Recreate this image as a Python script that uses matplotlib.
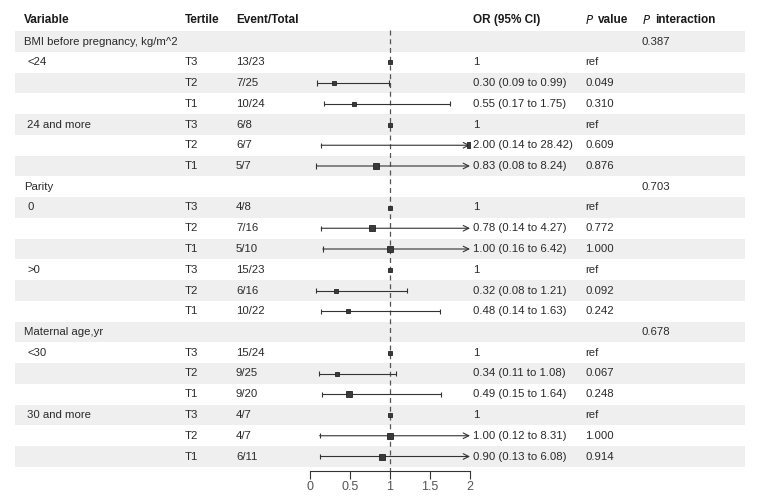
import matplotlib
matplotlib.use("Agg")
import matplotlib.pyplot as plt

plt.rcParams['font.family'] = ['Liberation Sans', 'DejaVu Sans']

# rows of the table
variables = ["BMI before pregnancy, kg/m^2", "<24", "", "", "24 and more", "", "",
             "Parity", "0", "", "", ">0", "", "",
             "Maternal age,yr", "<30", "", "", "30 and more", "", ""]
tertiles = ["", "T3", "T2", "T1", "T3", "T2", "T1",
            "", "T3", "T2", "T1", "T3", "T2", "T1",
            "", "T3", "T2", "T1", "T3", "T2", "T1"]
events = ["", "13/23", "7/25", "10/24", "6/8", "6/7", "5/7",
          "", "4/8", "7/16", "5/10", "15/23", "6/16", "10/22",
          "", "15/24", "9/25", "9/20", "4/7", "4/7", "6/11"]
or_est = [None, 1, 0.30, 0.55, 1, 2.00, 0.83,
          None, 1, 0.78, 1.00, 1, 0.32, 0.48,
          None, 1, 0.34, 0.49, 1, 1.00, 0.90]
ci_lo = [None, None, 0.09, 0.17, None, 0.14, 0.08,
         None, None, 0.14, 0.16, None, 0.08, 0.14,
         None, None, 0.11, 0.15, None, 0.12, 0.13]
ci_hi = [None, None, 0.99, 1.75, None, 28.42, 8.24,
         None, None, 4.27, 6.42, None, 1.21, 1.63,
         None, None, 1.08, 1.64, None, 8.31, 6.08]
or_text = ["", "1", "0.30 (0.09 to 0.99)", "0.55 (0.17 to 1.75)", "1", "2.00 (0.14 to 28.42)", "0.83 (0.08 to 8.24)",
           "", "1", "0.78 (0.14 to 4.27)", "1.00 (0.16 to 6.42)", "1", "0.32 (0.08 to 1.21)", "0.48 (0.14 to 1.63)",
           "", "1", "0.34 (0.11 to 1.08)", "0.49 (0.15 to 1.64)", "1", "1.00 (0.12 to 8.31)", "0.90 (0.13 to 6.08)"]
p_vals = ["", "ref", "0.049", "0.310", "ref", "0.609", "0.876",
          "", "ref", "0.772", "1.000", "ref", "0.092", "0.242",
          "", "ref", "0.067", "0.248", "ref", "1.000", "0.914"]
p_inter = ["0.387", "", "", "", "", "", "",
           "0.703", "", "", "", "", "", "",
           "0.678", "", "", "", "", "", ""]
marker_sizes = [0, 3.5, 3.5, 3.5, 3.5, 4, 4.5,
                0, 3.5, 4.5, 4.5, 3.5, 3.5, 3.5,
                0, 3.5, 3.5, 4, 3.5, 4.5, 5]
xticks = [0, 0.5, 1, 1.5, 2]

W, H = 759, 500
fig = plt.figure(figsize=(W / 100, H / 100), dpi=100)

# row r sits at pixel 41.5 + 20.75*r
y_top = (0 - 41.5) / 20.75
y_bot = (H - 41.5) / 20.75

ax = fig.add_axes([0, 0, 1, 1])
ax.set_xlim(0, W)
ax.set_ylim(y_bot, y_top)
ax.axis('off')

n = len(variables)
for r in range(n):
    if r % 2 == 0:
        ax.axhspan(r - 0.5, r + 0.5, xmin=15 / W, xmax=745 / W, color='#efefef', lw=0, zorder=0)

txt = dict(fontsize=8.2, color='#2a2a2a', va='center')
hd = dict(fontsize=8.5, color='#1a1a1a', va='center', fontweight='bold')
hdr_y = (20 - 41.5) / 20.75
ax.text(24, hdr_y, "Variable", **hd)
ax.text(185, hdr_y, "Tertile", **hd)
ax.text(236, hdr_y, "Event/Total", **hd)
ax.text(473, hdr_y, "OR (95% CI)", **hd)
ax.text(585, hdr_y, "$\\it{P}$", fontsize=8.5, color='#1a1a1a', va='center')
ax.text(598, hdr_y, "value", **hd)
ax.text(642, hdr_y, "$\\it{P}$", fontsize=8.5, color='#1a1a1a', va='center')
ax.text(655, hdr_y, "interaction", **hd)

for r in range(n):
    head = r in (0, 7, 14)
    ax.text(24 if head else 27, r, variables[r], **txt)
    ax.text(185, r, tertiles[r], **txt)
    ax.text(236, r, events[r], **txt)
    ax.text(473, r, or_text[r], **txt)
    ax.text(585, r, p_vals[r], **txt)
    ax.text(642, r, p_inter[r], **txt)

# forest plot
fx = fig.add_axes([310 / W, 0, 160 / W, 1])
fx.set_xlim(0, 2)
fx.set_ylim(y_bot, y_top)
fx.patch.set_alpha(0)
for s in ['top', 'right', 'left']:
    fx.spines[s].set_visible(False)
axis_y = (471 - 41.5) / 20.75
fx.spines['bottom'].set_position(('data', axis_y))
fx.spines['bottom'].set_bounds(0, 2)
fx.spines['bottom'].set_color('#333333')
fx.set_yticks([])
fx.set_xticks(xticks)
fx.set_xticklabels([f"{t:g}" for t in xticks])
fx.tick_params(axis='x', direction='out', length=5.5, width=0.8, colors='#333333',
               labelsize=9, labelcolor='#555555', pad=1.5)

fx.vlines(1, (30 - 41.5) / 20.75, axis_y, colors='#555555', linestyles=(0, (4, 3)), lw=0.9, zorder=1)

line_c = '#333333'
for r in range(n):
    if or_est[r] is None:
        continue
    lo, hi = ci_lo[r], ci_hi[r]
    if lo is not None:
        if hi > 2:
            fx.annotate("", xy=(2.0, r), xytext=(lo, r),
                        arrowprops=dict(arrowstyle='->', color=line_c, lw=0.8,
                                        shrinkA=0, shrinkB=0), zorder=2)
        else:
            fx.hlines(r, lo, hi, colors=line_c, lw=0.8, zorder=2)
            fx.vlines(hi, r - 0.13, r + 0.13, colors=line_c, lw=0.8, zorder=2)
        fx.vlines(lo, r - 0.13, r + 0.13, colors=line_c, lw=0.8, zorder=2)
    fx.plot(or_est[r], r, marker='s', ms=marker_sizes[r], color='#3a3a3a',
            mec='#222222', mew=0.6, zorder=3)

fig.savefig("out.png", dpi=100)
